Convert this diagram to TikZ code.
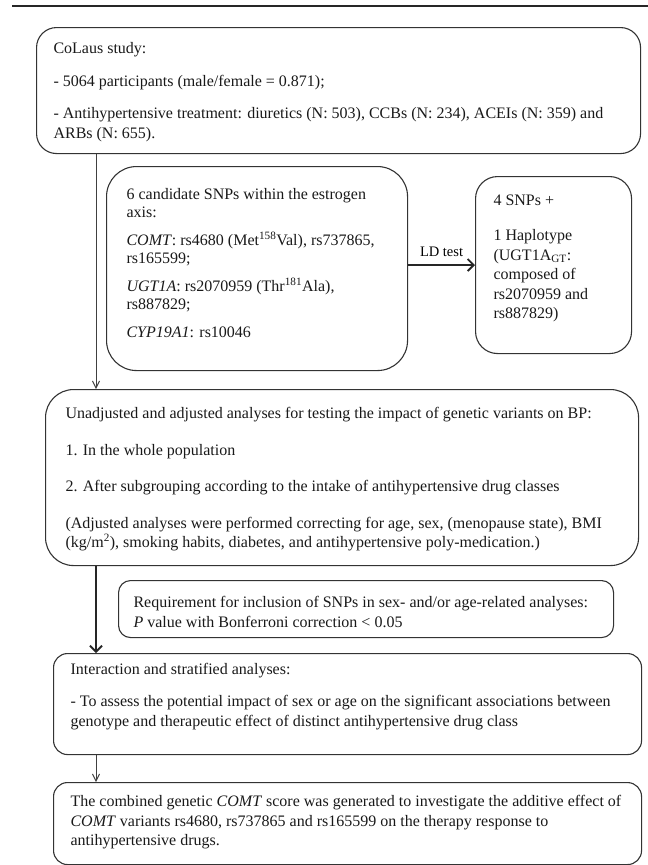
\documentclass[tikz,border=0pt]{standalone}
\usepackage{fontspec}
\setmainfont{Liberation Serif}
\usepackage{tikz}
\usetikzlibrary{arrows.meta}

\newcommand{\boxtext}[4]{\hspace*{#1}\parbox[c][#3][t]{\dimexpr #2-#1-4pt\relax}{\raggedright #4}\hspace*{4pt}}

\begin{document}
\begin{tikzpicture}[x=1pt,y=-1pt,
	flowbox/.style={draw=black!80, line width=1.1pt, rounded corners=#1, anchor=north west, inner xsep=0pt, text=black!90, font=\fontsize{16}{19.5}\selectfont},
	flowbox/.default=20pt,
	thinarrow/.style={draw=black!75, line width=0.7pt, -{Straight Barb[length=7pt,width=7pt,line width=1pt]}},
	boldarrow/.style={draw=black!85, line width=1.4pt, -{Straight Barb[length=6pt,width=12pt,line width=1.9pt]}}]
	\useasboundingbox (0,0) rectangle (648,865);
	\draw[line width=2pt, black!85] (12,6) -- (648,6);
	\coordinate (trunk) at (96,0);
	\node[flowbox=20pt, inner ysep=15pt] (colaus) at (36,27) {\boxtext{17pt}{604pt}{96pt}{CoLaus study:\\[13pt]
		- 5064 participants (male/female = 0.871);\\[13pt]
		- Antihypertensive treatment: diuretics (N: 503), CCBs (N: 234), ACEIs (N: 359) and\\
		ARBs (N: 655).}};
	\node[flowbox=30pt, inner ysep=22pt, font=\fontsize{16}{18}\selectfont] (snps) at (106,166) {\boxtext{20pt}{301pt}{160pt}{6 candidate SNPs within the estrogen\\
		axis:\\[10pt]
		\textit{COMT}: rs4680 (Met\textsuperscript{158}Val), rs737865,\\
		rs165599;\\[10pt]
		\textit{UGT1A}: rs2070959 (Thr\textsuperscript{181}Ala),\\
		rs887829;\\[10pt]
		\textit{CYP19A1}: rs10046}};
	\node[flowbox=22pt, inner ysep=18pt] (haplo) at (475,176) {\boxtext{18pt}{156pt}{141pt}{4 SNPs +\\[16pt]
		1 Haplotype\\
		(UGT1A\textsubscript{GT}:\\
		composed of\\
		rs2070959 and\\
		rs887829)}};
	\node[flowbox=28pt, inner ysep=18pt] (analyses) at (45,389) {\boxtext{20pt}{593pt}{140pt}{Unadjusted and adjusted analyses for testing the impact of genetic variants on BP:\\[17pt]
		1. In the whole population\\[17pt]
		2. After subgrouping according to the intake of antihypertensive drug classes\\[17pt]
		(Adjusted analyses were performed correcting for age, sex, (menopause state), BMI\\
		(kg/m\textsuperscript{2}), smoking habits, diabetes, and antihypertensive poly-medication.)}};
	\node[flowbox=12pt, inner ysep=16pt] (require) at (118,580) {\boxtext{15pt}{495pt}{25pt}{Requirement for inclusion of SNPs in sex- and/or age-related analyses:\\
		\textit{P} value with Bonferroni correction < 0.05}};
	\node[flowbox=14pt, inner ysep=10pt] (interact) at (53,653) {\boxtext{17pt}{588pt}{81pt}{Interaction and stratified analyses:\\[12.5pt]
		- To assess the potential impact of sex or age on the significant associations between\\
		genotype and therapeutic effect of distinct antihypertensive drug class}};
	\node[flowbox=14pt, inner ysep=13pt] (combined) at (53,782) {\boxtext{17pt}{588pt}{56pt}{The combined genetic \textit{COMT} score was generated to investigate the additive effect of\\
		\textit{COMT} variants rs4680, rs737865 and rs165599 on the therapy response to\\
		antihypertensive drugs.}};
	\draw[boldarrow] (snps.east |- haplo.west) -- node[above=8pt, inner sep=0pt, font=\fontsize{14.5}{17}\selectfont] (ldtest) {LD test} (haplo.west);
	\draw[thinarrow] (colaus.south -| trunk) -- (analyses.north -| trunk);
	\draw[boldarrow] (analyses.south -| trunk) -- (interact.north -| trunk);
	\draw[thinarrow] (interact.south -| trunk) -- (combined.north -| trunk);
\end{tikzpicture}
\end{document}
